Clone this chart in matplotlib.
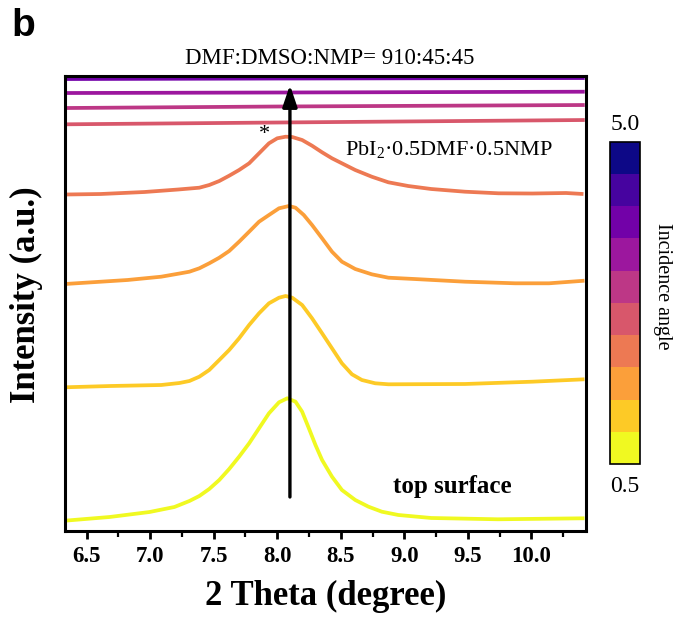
import numpy as np
import matplotlib
matplotlib.use('Agg')
import matplotlib.pyplot as plt
from matplotlib.colors import ListedColormap, BoundaryNorm
from matplotlib.colorbar import ColorbarBase

plt.rcParams['font.family'] = 'Liberation Serif'
plt.rcParams['mathtext.fontset'] = 'custom'
plt.rcParams['mathtext.rm'] = 'Liberation Serif'

# incidence angles, one curve each (0.5 .. 4.0 visible)
angles = [0.5, 1.0, 1.5, 2.0, 2.5, 3.0, 3.5, 4.0]

x05 = [6.33, 6.682, 6.996, 7.191, 7.309, 7.387, 7.465, 7.544, 7.622, 7.70, 7.779, 7.857, 7.935, 8.014, 8.079,
       8.144, 8.196, 8.249, 8.301, 8.353, 8.431, 8.509, 8.614, 8.718, 8.823, 8.953, 9.212, 9.736, 10.418]
y05 = [10.3, 14, 19, 24, 30, 35, 42, 51, 62, 74.3, 87.7, 102.7, 117.7, 128.7, 132.7,
       129.3, 119.3, 102.7, 86, 71, 54.3, 41, 31, 24.3, 19.3, 16, 13, 11.7, 12.7]

x10 = [6.33, 6.69, 7.087, 7.231, 7.309, 7.387, 7.465, 7.544, 7.622, 7.70, 7.779, 7.857, 7.935, 8.014, 8.066,
       8.118, 8.196, 8.274, 8.353, 8.431, 8.509, 8.588, 8.666, 8.771, 8.875, 9.478, 10.007, 10.418]
y10 = [143.7, 145, 146, 148, 150, 154.3, 161, 171, 181, 192.7, 206, 217.7, 227.7, 233.3, 235,
       233.3, 226, 212.7, 197.7, 182.7, 167.7, 156.7, 151, 147.7, 146.7, 147, 149.3, 151.7]

x15 = [6.33, 6.822, 7.087, 7.231, 7.309, 7.387, 7.465, 7.544, 7.622, 7.70, 7.779, 7.857, 7.935, 8.014, 8.092,
       8.144, 8.209, 8.274, 8.353, 8.431, 8.509, 8.614, 8.744, 8.875, 9.079, 9.478, 9.874, 10.139, 10.418]
y15 = [247, 251, 254.3, 257.5, 259.3, 262.7, 267.7, 273.3, 280, 289.3, 299.3, 309.3, 316, 322.7, 325,
       323.3, 316, 306, 292.7, 279.3, 269.3, 262, 256.7, 253.3, 252, 249.3, 247.7, 247.7, 250.3]

x20 = [6.33, 6.61, 6.955, 7.22, 7.387, 7.465, 7.544, 7.622, 7.70, 7.779, 7.857, 7.935, 8.0, 8.066, 8.118,
       8.196, 8.274, 8.353, 8.431, 8.509, 8.614, 8.744, 8.875, 9.031, 9.212, 9.478, 9.742, 10.007, 10.273, 10.41]
y20 = [336.5, 337, 339, 341.5, 343.3, 346, 350, 355.3, 361, 367.7, 377.7, 387.7, 392.7, 394.3, 394,
       391, 385.3, 378.7, 372.7, 367.7, 361, 354.3, 348.7, 345, 342, 339.3, 337.7, 337.5, 338, 337]

x_flat = [6.33, 8.0, 10.42]
y25 = [406.7, 408.5, 411]
y30 = [423, 424.5, 426]
y35 = [438, 438.5, 439.3]
y40 = [452, 452.5, 453]

xs = [x05, x10, x15, x20, x_flat, x_flat, x_flat, x_flat]
ys = [y05, y10, y15, y20, y25, y30, y35, y40]

bounds = np.arange(0.25, 5.3, 0.5)
cmap = ListedColormap(plt.cm.plasma(np.linspace(1, 0, 10)))
norm = BoundaryNorm(bounds, cmap.N)

fig = plt.figure(figsize=(6.78, 6.18), dpi=100)
ax = fig.add_axes([0.0959, 0.1408, 0.7684, 0.7362])

for a, x, y in zip(angles, xs, ys):
    ax.plot(x, y, color=cmap(norm(a)), lw=2.7, solid_capstyle='butt', solid_joinstyle='round')

ax.annotate('', xy=(8.1, 446), xytext=(8.1, 34),
            arrowprops=dict(arrowstyle='-|>,head_length=0.65,head_width=0.22',
                            lw=2.4, color='k', mutation_scale=20, shrinkA=0, shrinkB=0),
            zorder=10)

ax.text(7.9, 397, '*', fontsize=16, ha='center', va='center')
ax.text(8.53, 381, 'PbI$_2$·0.5DMF·0.5NMP', fontsize=16, va='center')
ax.text(8.91, 44, 'top surface', fontsize=18, fontweight='bold', va='center')

ax.set_xlim(6.33, 10.43)
ax.set_ylim(0, 455)
ax.set_yticks([])
ax.set_xticks(np.arange(6.5, 10.01, 0.5))
ax.set_xticks(np.arange(6.75, 10.3, 0.5), minor=True)
ax.tick_params(axis='x', which='major', direction='out', length=6, width=2, labelsize=16.5, pad=5)
ax.tick_params(axis='x', which='minor', direction='out', length=4, width=1.6)
for lab in ax.get_xticklabels():
    lab.set_fontweight('bold')
for s in ax.spines.values():
    s.set_linewidth(2.2)

ax.set_xlabel('2 Theta (degree)', fontsize=25, fontweight='bold')
ax.xaxis.set_label_coords(0.5, -0.108)
ax.set_ylabel('Intensity (a.u.)', fontsize=25, fontweight='bold')
ax.yaxis.set_label_coords(-0.042, 0.52)

fig.text(330 / 678, 1 - 58 / 618, 'DMF:DMSO:NMP= 910:45:45', fontsize=16.5, ha='center', va='center')
fig.text(11 / 678, 1 - 26 / 618, 'b', fontsize=28, fontweight='bold', family='Liberation Sans', va='center')

cax = fig.add_axes([0.8997, 0.2492, 0.04425, 0.5215])
cb = ColorbarBase(cax, cmap=cmap, norm=norm, boundaries=bounds, orientation='vertical')
cb.set_ticks([])
cax.minorticks_off()
cax.tick_params(length=0, which='both')
cb.outline.set_linewidth(1.2)
cax.text(0.5, 1.052, '5.0', transform=cax.transAxes, ha='center', va='center', fontsize=17)
cax.text(0.5, -0.07, '0.5', transform=cax.transAxes, ha='center', va='center', fontsize=17)
cax.text(1.75, 0.55, 'Incidence angle', transform=cax.transAxes, ha='center', va='center',
         rotation=-90, fontsize=14.5)

fig.savefig('out.png', dpi=100)
